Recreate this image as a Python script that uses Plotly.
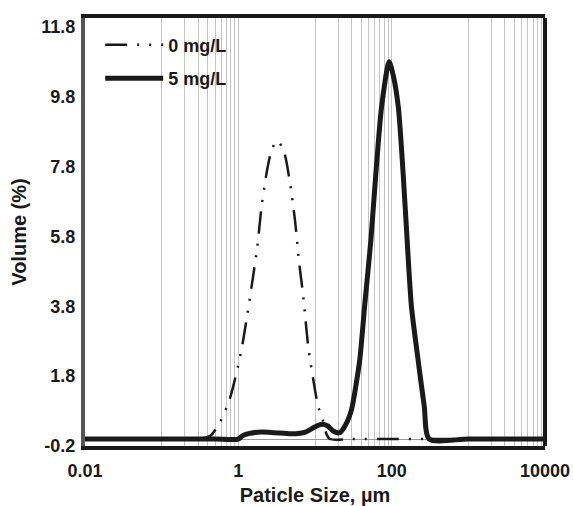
import plotly.graph_objects as go

# ---- data ----
size_0 = [0.01, 0.1, 0.3, 0.43, 0.575, 0.776, 1.08, 1.28, 1.49, 1.77, 2.01, 2.38, 2.72, 3.21,
          3.93, 4.61, 5.47, 6.22, 7.02, 8.15, 9.48, 11.0, 12.6, 14.2, 15.6, 30, 100, 300, 1000, 10000]
vol_0 = [0, 0, 0, 0.09, 0.48, 1.16, 2.48, 3.42, 4.37, 5.51, 6.66, 7.71, 8.27, 8.54,
         8.23, 7.47, 6.28, 5.04, 4.09, 2.66, 1.71, 0.94, 0.56, 0.13, 0.0, 0, 0, 0, 0, 0]

size_5 = [0.01, 0.1, 0.5, 1.0, 1.15, 1.4, 2.0, 3.0, 5.0, 7.5, 10.0, 12.2, 14.5, 17.5, 21.0,
          25.0, 30.0, 34.0, 38.5, 44.8, 53.6, 62.2, 73.8, 92.7, 105.0, 122.0, 141.0, 159.0,
          181.0, 218.0, 266.0, 309.0, 1000, 10000]
vol_5 = [0, 0, 0, 0, 0.1, 0.16, 0.2, 0.18, 0.15, 0.2, 0.35, 0.42, 0.38, 0.22, 0.18,
         0.4, 0.85, 1.5, 2.3, 3.9, 5.7, 7.6, 9.5, 10.8, 10.4, 9.51, 7.61, 5.71,
         3.8, 2.37, 0.94, 0.0, 0, 0]

x_label_vals = [0.01, 1, 100, 10000]
x_label_text = ["0.01", "1", "100", "10000"]
y_tickvals = [-0.2, 1.8, 3.8, 5.8, 7.8, 9.8, 11.8]
y_ticktext = ["-0.2", "1.8", "3.8", "5.8", "7.8", "9.8", "11.8"]

# vertical grid lines appear only in alternating decades
grid_x = [round(k * 0.1, 1) for k in range(1, 10)] + [k * 10 for k in range(1, 10)] + [k * 1000 for k in range(1, 10)]

x_tickvals = x_label_vals + grid_x
x_ticktext = x_label_text + [""] * len(grid_x)

FONT = "Liberation Sans, Arial, sans-serif"

fig = go.Figure()
fig.add_trace(go.Scatter(
    x=size_0, y=vol_0, name="0 mg/L", mode="lines", line_shape="spline", legendgroup="a",
    line=dict(color="#1a1a1a", width=2.5, dash="22px,10px,2px,10px,2px,10px", smoothing=0.8),
))
fig.add_trace(go.Scatter(
    x=size_5, y=vol_5, name="5 mg/L", mode="lines", line_shape="spline", legendgroup="b",
    line=dict(color="#1a1a1a", width=5, smoothing=0.7),
))

fig.update_layout(
    width=573, height=506,
    margin=dict(l=85, r=28, t=18, b=60, autoexpand=False),
    paper_bgcolor="white", plot_bgcolor="white",
    font=dict(family=FONT, size=18, color="#1a1a1a"),
    showlegend=True,
    legend=dict(
        x=0.033, y=0.98, xanchor="left", yanchor="top",
        bgcolor="rgba(0,0,0,0)", borderwidth=0,
        font=dict(family=FONT, size=18, color="#1a1a1a", weight="bold"),
        itemwidth=58, tracegroupgap=7,
    ),
    xaxis=dict(
        type="log", range=[-2, 4], automargin=False,
        tickmode="array", tickvals=x_tickvals, ticktext=x_ticktext,
        tickfont=dict(family=FONT, size=18, weight="bold"),
        showgrid=True, gridcolor="#c4c4c4", gridwidth=1, zeroline=False,
        showline=True, linecolor="#1a1a1a", linewidth=4, mirror=True,
        ticks="", ticklabelstandoff=5,
        title=dict(text="Paticle Size, µm", font=dict(family=FONT, size=20, weight="bold"), standoff=12),
    ),
    yaxis=dict(
        range=[-0.2, 12.05], automargin=False,
        tickmode="array", tickvals=y_tickvals, ticktext=y_ticktext,
        tickfont=dict(family=FONT, size=18, weight="bold"),
        showgrid=False,
        zeroline=True, zerolinecolor="#9a9a9a", zerolinewidth=1,
        showline=True, linecolor="#555555", linewidth=4, mirror=False,
        ticks="", ticklabelstandoff=2,
        title=dict(text="Volume (%)", font=dict(family=FONT, size=20, weight="bold"), standoff=10),
    ),
    shapes=[
        dict(type="line", xref="paper", yref="paper", x0=1, x1=1, y0=0, y1=1,
             line=dict(color="#1a1a1a", width=4), layer="above"),
    ],
)

fig.write_html("out.html")
